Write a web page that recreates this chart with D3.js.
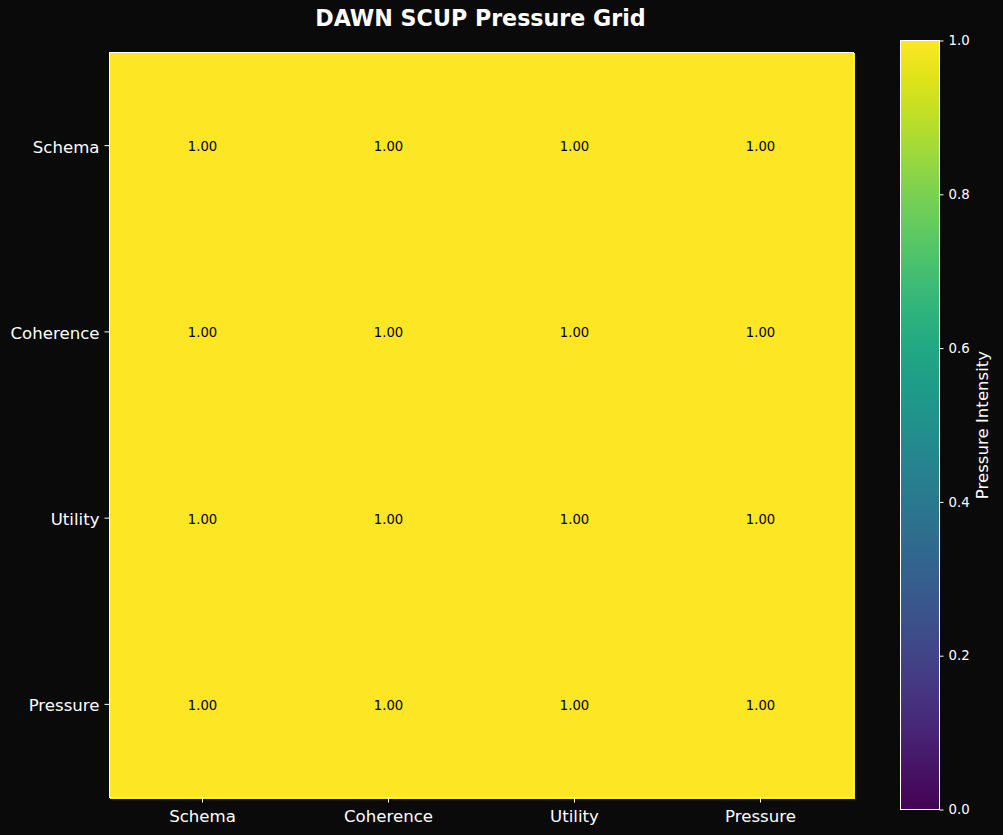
<!DOCTYPE html>
<html><head><meta charset="utf-8">
<script src="https://cdn.jsdelivr.net/npm/d3@7"></script>
<style>html,body{margin:0;padding:0;background:#0a0a0a;}svg{display:block;}</style>
</head><body>
<svg id="c" width="1003" height="835"></svg>
<script>
const rows = ["Schema","Coherence","Utility","Pressure"];
const cols = ["Schema","Coherence","Utility","Pressure"];
const values = [
  [1.00,1.00,1.00,1.00],
  [1.00,1.00,1.00,1.00],
  [1.00,1.00,1.00,1.00],
  [1.00,1.00,1.00,1.00]
];
const cbTicks = [0.0,0.2,0.4,0.6,0.8,1.0];
const title = "DAWN SCUP Pressure Grid";
const cbLabel = "Pressure Intensity";

const svg = d3.select("#c");
const font = "DejaVu Sans, sans-serif";
const L=109.5, R=853.5, T=52.5, B=797.5;
const x = d3.scaleBand().domain(cols).range([L,R]);
const y = d3.scaleBand().domain(rows).range([T,B]);
const color = d3.scaleSequential(d3.interpolateViridis).domain([0,1]);

svg.append("text").attr("x",480.5).attr("y",26).attr("text-anchor","middle")
  .attr("font-family",font).attr("font-size",22.2).attr("font-weight","bold")
  .attr("fill","#ffffff").text(title);

const cells=[];
values.forEach((r,i)=>r.forEach((v,j)=>cells.push({r:rows[i],c:cols[j],v})));
svg.append("g").attr("shape-rendering","crispEdges").selectAll("rect").data(cells).join("rect")
  .attr("x",d=>x(d.c)).attr("y",d=>y(d.r))
  .attr("width",x.bandwidth()+1).attr("height",y.bandwidth()+1)
  .attr("fill",d=>color(d.v));
svg.append("g").selectAll("text").data(cells).join("text")
  .attr("x",d=>x(d.c)+x.bandwidth()/2).attr("y",d=>y(d.r)+y.bandwidth()/2+1)
  .attr("dy","0.35em").attr("text-anchor","middle")
  .attr("font-family",font).attr("font-size",13.2).attr("fill","#000")
  .text(d=>d.v.toFixed(2));
svg.append("rect").attr("x",L).attr("y",T).attr("width",R-L).attr("height",B-T)
  .attr("fill","none").attr("stroke","#fff").attr("stroke-width",1);

const xa = svg.append("g").attr("transform",`translate(0,${B})`)
  .call(d3.axisBottom(x).tickSize(5).tickPadding(5));
const ya = svg.append("g").attr("transform",`translate(${L},0)`)
  .call(d3.axisLeft(y).tickSize(5).tickPadding(5));
[xa,ya].forEach(a=>{
  a.select(".domain").remove();
  a.selectAll("line").attr("stroke","#fff");
  a.selectAll("text").attr("fill","#fff").attr("font-family",font).attr("font-size",16.6);
});
xa.selectAll("text").attr("dy","0.9em");
ya.selectAll("text").attr("dy","0.42em");

// colorbar
const cL=900.5, cR=939.5, cT=40.5, cB=809.5;
const cy = d3.scaleLinear().domain([0,1]).range([cB,cT]);
const defs = svg.append("defs");
const g = defs.append("linearGradient").attr("id","vg").attr("x1",0).attr("y1",1).attr("x2",0).attr("y2",0);
d3.range(0,1.0001,0.05).forEach(t=>g.append("stop").attr("offset",t).attr("stop-color",color(t)));
svg.append("rect").attr("x",cL).attr("y",cT).attr("width",cR-cL).attr("height",cB-cT)
  .attr("fill","url(#vg)").attr("stroke","#fff").attr("stroke-width",1);
const ca = svg.append("g").attr("transform",`translate(${cR},0)`)
  .call(d3.axisRight(cy).tickValues(cbTicks).tickFormat(d3.format(".1f")).tickSize(4).tickPadding(5));
ca.select(".domain").remove();
ca.selectAll("line").attr("stroke","#fff");
ca.selectAll("text").attr("fill","#fff").attr("font-family",font).attr("font-size",13.3);
svg.append("text").attr("transform",`translate(988,${(cT+cB)/2}) rotate(-90)`)
  .attr("text-anchor","middle").attr("font-family",font).attr("font-size",16.6)
  .attr("fill","#fff").text(cbLabel);
</script>
</body></html>
